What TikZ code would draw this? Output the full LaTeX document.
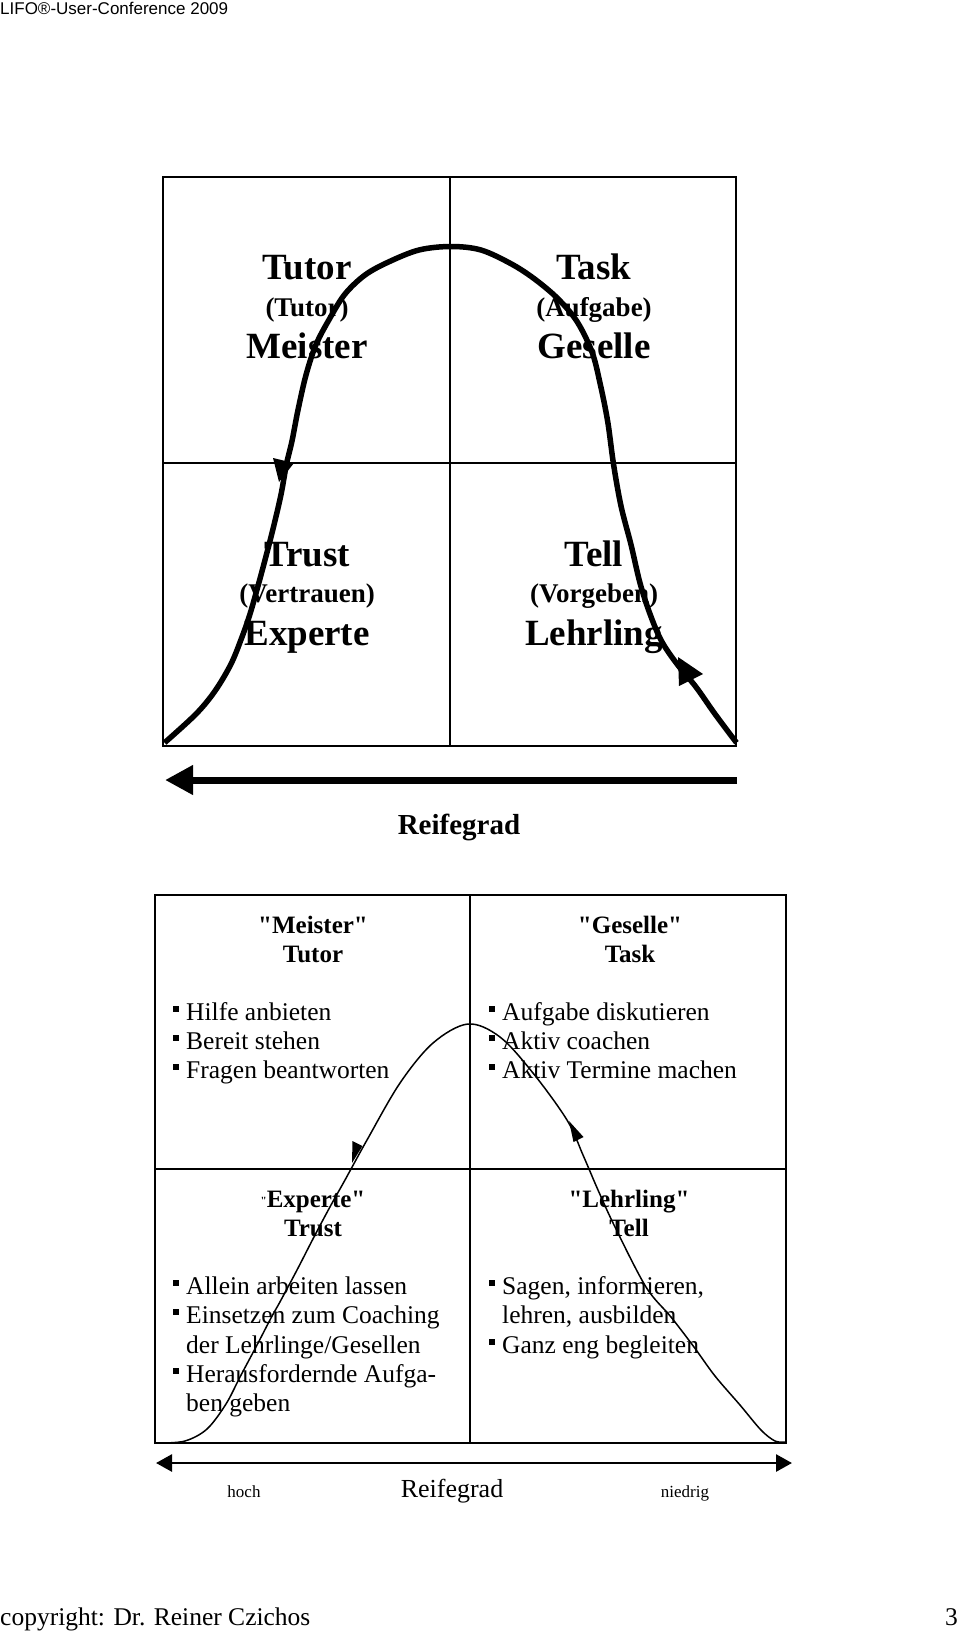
\documentclass[tikz,border=0pt]{standalone}
\usepackage{fontspec}
\setmainfont{Liberation Serif}[Ligatures=TeXOff]
\newfontfamily\arialfont{Liberation Sans}[Ligatures=TeXOff]
\usetikzlibrary{arrows.meta}
\begin{document}
\begin{tikzpicture}[x=1pt,y=-1pt,
  bigtxt/.style={font=\fontsize{37}{40}\selectfont\bfseries, anchor=base, inner sep=0pt},
  midtxt/.style={font=\fontsize{27}{30}\selectfont\bfseries, anchor=base, inner sep=0pt},
  headtxt/.style={font=\fontsize{25}{28}\selectfont\bfseries, anchor=base, inner sep=0pt},
  itemtxt/.style={font=\fontsize{25.5}{29}\selectfont, anchor=base west, inner sep=0pt},
  smalltxt/.style={font=\fontsize{17}{20}\selectfont, anchor=base, inner sep=0pt},
  bul/.style={fill=black, draw=none, minimum size=6pt, inner sep=0pt, anchor=south west},
  thingrid/.style={line width=1.5pt},
  thickgrid/.style={line width=2pt},
  bigcurve/.style={line width=5.5pt},
  smallcurve/.style={line width=1.5pt}
]
\useasboundingbox (0,0) rectangle (960,1631);

% header and footer
\node[anchor=base west, inner sep=0pt, font=\arialfont\fontsize{17}{19}\selectfont] (hdr) at (0,14.5) {LIFO®-User-Conference 2009};
\node[anchor=base west, inner sep=0pt, font=\fontsize{25.5}{28}\selectfont] (ftr) at (0,1625) {copyright: Dr. Reiner Czichos};
\node[anchor=base east, inner sep=0pt, font=\fontsize{25.5}{28}\selectfont] (pg) at (958,1625) {3};

% ---------- top grid ----------
\draw[thingrid] (163,177) rectangle (736,746);
\draw[thingrid] (450,177) -- (450,746);
\draw[thingrid] (163,463) -- (736,463);

\node[bigtxt] (t1) at (307,279) {Tutor};
\node[midtxt] (t2) at (307,316) {(Tutor)};
\node[bigtxt] (t3) at (307,358) {Meister};
\node[bigtxt] (k1) at (594,279) {Task};
\node[midtxt] (k2) at (594,316) {(Aufgabe)};
\node[bigtxt] (k3) at (594,358) {Geselle};
\node[bigtxt] (r1) at (307,566) {Trust};
\node[midtxt] (r2) at (307,602) {(Vertrauen)};
\node[bigtxt] (r3) at (307,645) {Experte};
\node[bigtxt] (l1) at (594,566) {Tell};
\node[midtxt] (l2) at (594,602) {(Vorgeben)};
\node[bigtxt] (l3) at (594,645) {Lehrling};

\draw[bigcurve] plot[smooth, tension=0.55] coordinates {
 (736.5,742.7) (715,714) (696,687) (677,664) (661.5,641) (650,614) (640,583)
 (631,544.6) (621,506) (613.5,464) (607.7,421.5) (600,383) (592,352) (577,321.5)
 (557.7,298.5) (534.6,279) (511.5,264) (481,250) (451,246.5) (419,250) (388.5,262)
 (365,275) (345,294) (330,318) (316,344.6) (306,375) (298,410) (292,441)
 (286.5,464) (281,494.6) (273,529) (265,560) (257.7,587) (250,614) (242,637)
 (231,664) (215,691) (196,714) (164.6,742.7)};
\fill (678,657) -- (679,686) -- (703,674) -- cycle;
\fill (279,482) -- (273,458) -- (294,463) -- cycle;

% top Reifegrad arrow
\coordinate (ra) at (737,780);
\coordinate (rb) at (165,780);
\draw[line width=7pt, -{Triangle[length=28pt,width=28pt]}] (ra) -- (rb);
\node[anchor=base, inner sep=0pt, font=\fontsize{29}{32}\selectfont\bfseries] (reif1) at (459,834) {Reifegrad};

% ---------- bottom grid ----------
\draw[thickgrid] (155,895) rectangle (786,1443);
\draw[thickgrid] (470,895) -- (470,1443);
\draw[thickgrid] (155,1169) -- (786,1169);

\node[headtxt] (h1) at (313,933) {"Meister"};
\node[headtxt] (h2) at (313,962) {Tutor};
\node[headtxt] (h3) at (630,933) {"Geselle"};
\node[headtxt] (h4) at (630,962) {Task};
\node[headtxt] (h5) at (313,1207) {{\fontsize{11}{11}\selectfont\raisebox{3pt}{"}}Experte"};
\node[headtxt] (h6) at (313,1236) {Trust};
\node[headtxt] (h7) at (629,1207) {"Lehrling"};
\node[headtxt] (h8) at (629,1236) {Tell};

% left upper items
\node[bul] (bA1) at (173,1012) {};
\node[itemtxt] (iA1) at (186,1020) {Hilfe anbieten};
\node[bul] (bA2) at (173,1041) {};
\node[itemtxt] (iA2) at (186,1049) {Bereit stehen};
\node[bul] (bA3) at (173,1070) {};
\node[itemtxt] (iA3) at (186,1078) {Fragen beantworten};
% right upper items
\node[bul] (bB1) at (489,1012) {};
\node[itemtxt] (iB1) at (502,1020) {Aufgabe diskutieren};
\node[bul] (bB2) at (489,1041) {};
\node[itemtxt] (iB2) at (502,1049) {Aktiv coachen};
\node[bul] (bB3) at (489,1070) {};
\node[itemtxt] (iB3) at (502,1078) {Aktiv Termine machen};
% left lower items
\node[bul] (bC1) at (173,1286) {};
\node[itemtxt] (iC1) at (186,1294) {Allein arbeiten lassen};
\node[bul] (bC2) at (173,1315) {};
\node[itemtxt] (iC2) at (186,1323) {Einsetzen zum Coaching};
\node[itemtxt] (iC3) at (186,1353) {der Lehrlinge/Gesellen};
\node[bul] (bC4) at (173,1374) {};
\node[itemtxt] (iC4) at (186,1382) {Herausfordernde Aufga-};
\node[itemtxt] (iC5) at (186,1411) {ben geben};
% right lower items
\node[bul] (bD1) at (489,1286) {};
\node[itemtxt] (iD1) at (502,1294) {Sagen, informieren,};
\node[itemtxt] (iD2) at (502,1323) {lehren, ausbilden};
\node[bul] (bD3) at (489,1345) {};
\node[itemtxt] (iD3) at (502,1353) {Ganz eng begleiten};

\draw[smallcurve] plot[smooth, tension=0.55] coordinates {
 (785,1442) (775,1441) (761,1430) (740,1405) (715,1376) (694,1347) (671,1317)
 (646,1287) (615,1227) (598,1190) (583,1155) (567,1120) (533,1073) (500,1037)
 (468,1024) (433,1043) (400,1083) (367,1140) (345,1180) (331,1205) (315,1235)
 (297,1270) (281,1300) (271,1318) (257,1345) (240,1377) (226,1404) (207,1429)
 (185,1441) (160,1443)};
\fill (352,1163) -- (362.5,1146) -- (352.5,1141) -- cycle;
\fill (569,1121) -- (583.5,1137) -- (573.5,1142) -- cycle;

% bottom Reifegrad arrow
\coordinate (sa) at (156,1463);
\coordinate (sb) at (792,1463);
\draw[line width=2.7pt, {Triangle[length=16pt,width=17pt]}-{Triangle[length=16pt,width=17pt]}] (sa) -- (sb);
\node[smalltxt] (hoch) at (244,1497) {hoch};
\node[anchor=base, inner sep=0pt, font=\fontsize{26}{29}\selectfont] (reif2) at (452,1497) {Reifegrad};
\node[smalltxt] (nied) at (685,1497) {niedrig};
\end{tikzpicture}
\end{document}
